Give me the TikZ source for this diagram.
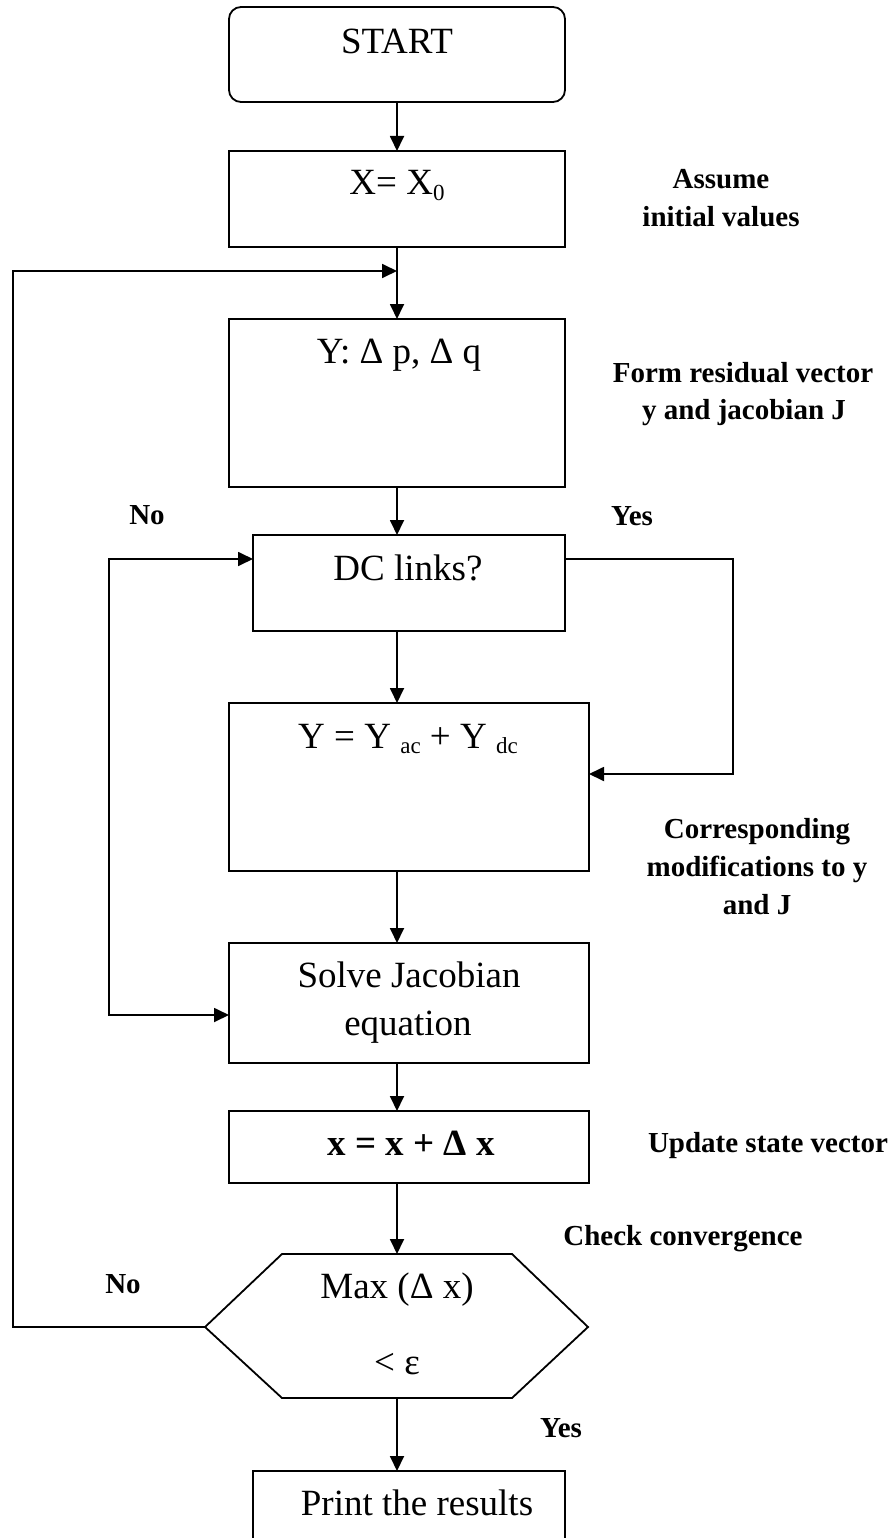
\documentclass[tikz,border=0pt]{standalone}
\usepackage{fontspec}
\setmainfont{Liberation Serif}
\usetikzlibrary{arrows.meta}
\newcommand{\lowsub}[1]{\raisebox{-0.35ex}{\fontsize{23}{23}\selectfont #1}}
\begin{document}
\begin{tikzpicture}[x=1pt,y=-1pt,line width=1.8pt,
  box/.style={draw,rectangle,inner sep=0pt,outer sep=0pt,anchor=north west},
  boxtext/.style={inner sep=0pt,anchor=base,font=\fontsize{37}{44}\selectfont},
  note/.style={inner sep=0pt,anchor=base,font=\bfseries\fontsize{29}{36}\selectfont},
  arr/.style={-{Triangle[length=15pt,width=14pt]}},
  arrtwo/.style={{Triangle[length=15pt,width=14pt]}-{Triangle[length=15pt,width=14pt]}}]
\useasboundingbox (0,0) rectangle (896,1538);
\clip (0,0) rectangle (896,1538);
% boxes
\node[box,rounded corners=12pt,minimum width=336pt,minimum height=95pt] (start) at (229,7) {};
\node[box,minimum width=336pt,minimum height=96pt] (x0) at (229,151) {};
\node[box,minimum width=336pt,minimum height=168pt] (ybox) at (229,319) {};
\node[box,minimum width=312pt,minimum height=96pt] (dc) at (253,535) {};
\node[box,minimum width=360pt,minimum height=168pt] (yac) at (229,703) {};
\node[box,minimum width=360pt,minimum height=120pt] (solve) at (229,943) {};
\node[box,minimum width=360pt,minimum height=72pt] (xbox) at (229,1111) {};
\node[box,minimum width=312pt,minimum height=100pt] (print) at (253,1471) {};
% hexagon
\coordinate (hexL) at (205,1327);
\coordinate (hexT) at (397,1254);
\coordinate (hexB) at (397,1398);
\draw (hexL) -- (282,1254) -- (512,1254) -- (588,1327) -- (512,1398) -- (282,1398) -- cycle;
% box texts
\node[boxtext] (tstart) at (397,54) {START};
\node[boxtext] (tx0) at (397,195) {X= X\lowsub{0}};
\node[boxtext] (ty) at (399,363) {Y: Δ p, Δ q};
\node[boxtext] (tdc) at (408,580) {DC links?};
\node[boxtext] (tyac) at (408,748) {Y = Y \lowsub{ac} + Y \lowsub{dc}};
\node[boxtext] (tsolveA) at (409,987) {Solve Jacobian};
\node[boxtext] (tsolveB) at (408,1035) {equation};
\node[boxtext,font=\bfseries\fontsize{37}{44}\selectfont] (tx) at (411,1155) {x = x + Δ x};
\node[boxtext] (tmax) at (397,1298) {Max (Δ x)};
\node[boxtext] (teps) at (397,1374) {< ε};
\node[boxtext] (tprint) at (417,1515) {Print the results};
% side notes
\node[note] (nA1) at (721,189) {Assume};
\node[note] (nA2) at (721,227) {initial values};
\node[note] (nF1) at (743,382) {Form residual vector};
\node[note] (nF2) at (744,419) {y and jacobian J};
\node[note] (nNo1) at (147,524) {No};
\node[note] (nYes1) at (632,525) {Yes};
\node[note] (nC1) at (757,838) {Corresponding};
\node[note] (nC2) at (757,876) {modifications to y};
\node[note] (nC3) at (757,914) {and J};
\node[note] (nU) at (768,1152) {Update state vector};
\node[note] (nCh) at (683,1245) {Check convergence};
\node[note] (nNo2) at (123,1293) {No};
\node[note] (nYes2) at (561,1437) {Yes};
% helper coordinates
\coordinate (spine) at (397,0);
\coordinate (loopin) at (397,271);
\coordinate (loopL) at (13,0);
\coordinate (noy) at (0,559);
\coordinate (nox) at (109,0);
\coordinate (soly) at (0,1015);
\coordinate (yesx) at (733,0);
\coordinate (yacin) at (0,774);
% connectors
\draw[arr] (start.south -| spine) -- (x0.north -| spine);
\draw[arr] (x0.south -| spine) -- (ybox.north -| spine);
\draw[arr] (hexL) -| (loopL |- loopin) -- (loopin);
\draw[arr] (ybox.south -| spine) -- (dc.north -| spine);
\draw[arr] (dc.south -| spine) -- (yac.north -| spine);
\draw[arr] (yac.south -| spine) -- (solve.north -| spine);
\draw[arr] (solve.south -| spine) -- (xbox.north -| spine);
\draw[arr] (xbox.south -| spine) -- (hexT);
\draw[arr] (hexB) -- (print.north -| spine);
\draw[arrtwo] (dc.west |- noy) -| (nox |- soly) -- (solve.west |- soly);
\draw[arr] (dc.east |- noy) -| (yesx |- yacin) -- (yac.east |- yacin);
\end{tikzpicture}
\end{document}
